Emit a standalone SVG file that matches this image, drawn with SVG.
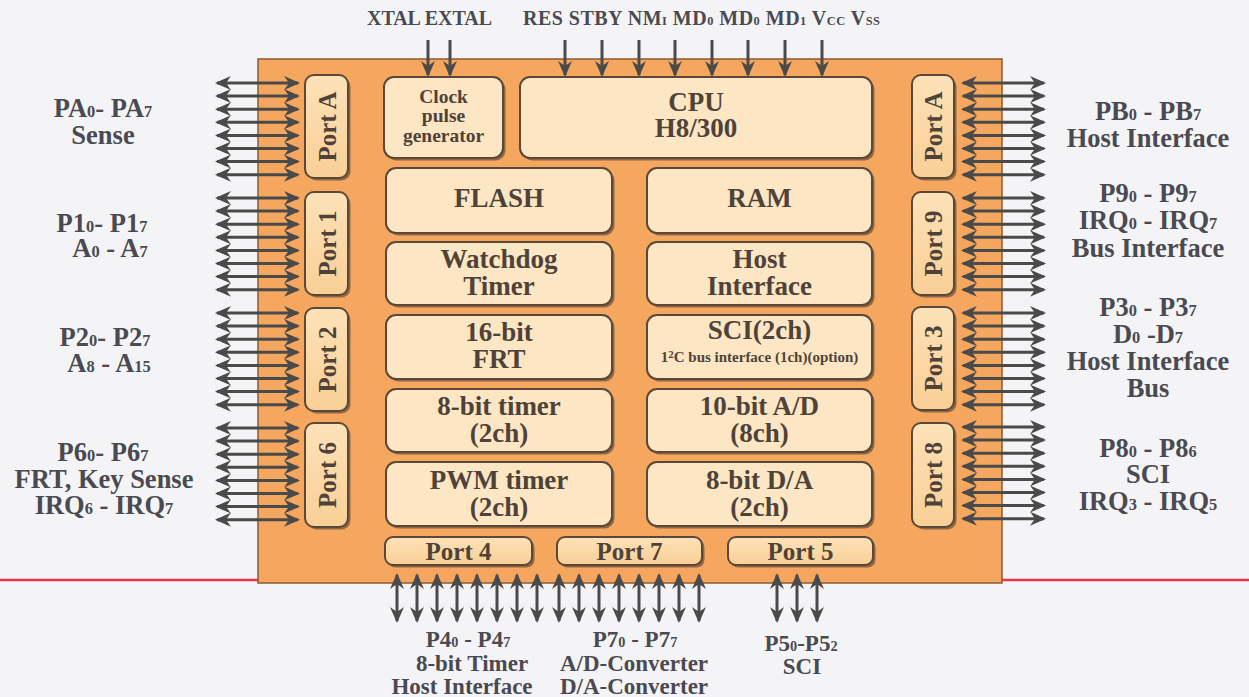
<svg xmlns="http://www.w3.org/2000/svg" xmlns:xlink="http://www.w3.org/1999/xlink" width="1249" height="697" viewBox="0 0 1249 697">
<style>
.lbl{font-family:"Liberation Serif","Times New Roman",serif;font-weight:bold;fill:#4a4a50;text-anchor:middle}
.side{font-size:26.5px}
.bot{font-size:23px}
.top{font-size:20px;text-anchor:start}
.s{font-size:62%}
.blk{fill:#fce6c3;stroke:#5a4838;stroke-width:2}
.prt{fill:url(#pg);stroke:#5a4838;stroke-width:2}
.sh{fill:#6e5238;opacity:0.75}
.bt{font-family:"Liberation Serif","Times New Roman",serif;font-weight:bold;fill:#4f4238;text-anchor:middle;font-size:27px}
.ct{font-size:19.5px}
.pt{font-size:25px}
.sm{font-size:15px}
.ar{stroke:#4a4a4a;stroke-width:3;fill:none}
.dbl{marker-start:url(#ah);marker-end:url(#ah)}
.sgl{marker-end:url(#ah)}
</style>
<defs>
<linearGradient id="pg" x1="0" y1="0" x2="0" y2="1">
<stop offset="0" stop-color="#fde2b8"/>
<stop offset="1" stop-color="#f9cf96"/>
</linearGradient>
<marker id="ah" markerUnits="userSpaceOnUse" viewBox="0 0 16 14" markerWidth="16" markerHeight="14" refX="14" refY="7" orient="auto-start-reverse">
<path d="M0,0 L16,7 L0,14 L5,7 z" fill="#4a4a4a"/>
</marker>
<g id="hbus" class="ar dbl">
<line x1="0" y1="0" x2="81" y2="0"/>
<line x1="0" y1="13.1" x2="81" y2="13.1"/>
<line x1="0" y1="26.2" x2="81" y2="26.2"/>
<line x1="0" y1="39.3" x2="81" y2="39.3"/>
<line x1="0" y1="52.4" x2="81" y2="52.4"/>
<line x1="0" y1="65.5" x2="81" y2="65.5"/>
<line x1="0" y1="78.6" x2="81" y2="78.6"/>
<line x1="0" y1="91.7" x2="81" y2="91.7"/>
</g>
<g id="vbus" class="ar dbl">
<line x1="0" y1="0" x2="0" y2="46"/>
<line x1="20" y1="0" x2="20" y2="46"/>
<line x1="40" y1="0" x2="40" y2="46"/>
<line x1="60" y1="0" x2="60" y2="46"/>
<line x1="80" y1="0" x2="80" y2="46"/>
<line x1="100" y1="0" x2="100" y2="46"/>
<line x1="120" y1="0" x2="120" y2="46"/>
<line x1="140" y1="0" x2="140" y2="46"/>
</g>
</defs>
<rect x="0" y="0" width="1249" height="697" fill="#f4f4f7"/>
<g id="baseline">
<line x1="0" y1="580" x2="258" y2="580" stroke="#e8344e" stroke-width="2.5"/>
<line x1="1002" y1="580" x2="1249" y2="580" stroke="#e8344e" stroke-width="2.5"/>
</g>
<g id="chip">
<rect x="258" y="59" width="744" height="524" fill="#f5a75f" stroke="#8a5a30" stroke-width="1.5"/>
</g>
<g id="clock">
<rect class="sh" x="386.5" y="79.5" width="119" height="81" rx="10"/>
<rect class="blk" x="384" y="77" width="119" height="81" rx="10"/>
<text class="bt ct" x="443.5" y="103">Clock</text>
<text class="bt ct" x="443.5" y="122">pulse</text>
<text class="bt ct" x="443.5" y="142">generator</text>
</g>
<g id="cpu">
<rect class="sh" x="522.5" y="79.5" width="352" height="81" rx="10"/>
<rect class="blk" x="520" y="77" width="352" height="81" rx="10"/>
<text class="bt" x="696" y="111">CPU</text>
<text class="bt" x="696" y="137">H8/300</text>
</g>
<g id="flash">
<rect class="sh" x="388.5" y="170.5" width="226" height="65" rx="10"/>
<rect class="blk" x="386" y="168" width="226" height="65" rx="10"/>
<text class="bt" x="499" y="207">FLASH</text>
</g>
<g id="ram">
<rect class="sh" x="649.5" y="170.5" width="225" height="65" rx="10"/>
<rect class="blk" x="647" y="168" width="225" height="65" rx="10"/>
<text class="bt" x="759.5" y="207">RAM</text>
</g>
<g id="watchdog">
<rect class="sh" x="388.5" y="244.5" width="226" height="63" rx="10"/>
<rect class="blk" x="386" y="242" width="226" height="63" rx="10"/>
<text class="bt" x="499" y="268">Watchdog</text>
<text class="bt" x="499" y="295">Timer</text>
</g>
<g id="hostif">
<rect class="sh" x="649.5" y="244.5" width="225" height="63" rx="10"/>
<rect class="blk" x="647" y="242" width="225" height="63" rx="10"/>
<text class="bt" x="759.5" y="268">Host</text>
<text class="bt" x="759.5" y="295">Interface</text>
</g>
<g id="frt">
<rect class="sh" x="388.5" y="317.5" width="226" height="64" rx="10"/>
<rect class="blk" x="386" y="315" width="226" height="64" rx="10"/>
<text class="bt" x="499" y="341">16-bit</text>
<text class="bt" x="499" y="368">FRT</text>
</g>
<g id="sci">
<rect class="sh" x="649.5" y="317.5" width="225" height="64" rx="10"/>
<rect class="blk" x="647" y="315" width="225" height="64" rx="10"/>
<text class="bt" x="759.5" y="339">SCI(2ch)</text>
<text class="bt sm" x="759.5" y="362">1<tspan font-size="11" dy="-4">2</tspan><tspan dy="4">C bus interface (1ch)(option)</tspan></text>
</g>
<g id="timer8">
<rect class="sh" x="388.5" y="391.5" width="226" height="63" rx="10"/>
<rect class="blk" x="386" y="389" width="226" height="63" rx="10"/>
<text class="bt" x="499" y="415">8-bit timer</text>
<text class="bt" x="499" y="442">(2ch)</text>
</g>
<g id="ad">
<rect class="sh" x="649.5" y="391.5" width="225" height="63" rx="10"/>
<rect class="blk" x="647" y="389" width="225" height="63" rx="10"/>
<text class="bt" x="759.5" y="415">10-bit A/D</text>
<text class="bt" x="759.5" y="442">(8ch)</text>
</g>
<g id="pwm">
<rect class="sh" x="388.5" y="464.5" width="226" height="64" rx="10"/>
<rect class="blk" x="386" y="462" width="226" height="64" rx="10"/>
<text class="bt" x="499" y="489">PWM timer</text>
<text class="bt" x="499" y="516">(2ch)</text>
</g>
<g id="da">
<rect class="sh" x="649.5" y="464.5" width="225" height="64" rx="10"/>
<rect class="blk" x="647" y="462" width="225" height="64" rx="10"/>
<text class="bt" x="759.5" y="489">8-bit D/A</text>
<text class="bt" x="759.5" y="516">(2ch)</text>
</g>
<g id="portA-left">
<rect class="sh" x="307.5" y="77.5" width="43" height="103" rx="9"/>
<rect class="prt" x="305" y="75" width="43" height="103" rx="9"/>
<text class="bt pt" transform="translate(326.5,126.5) rotate(-90)" x="0" y="9">Port A</text>
</g>
<g id="port1">
<rect class="sh" x="307.5" y="194.5" width="43" height="103" rx="9"/>
<rect class="prt" x="305" y="192" width="43" height="103" rx="9"/>
<text class="bt pt" transform="translate(326.5,243.5) rotate(-90)" x="0" y="9">Port 1</text>
</g>
<g id="port2">
<rect class="sh" x="307.5" y="310.5" width="43" height="103" rx="9"/>
<rect class="prt" x="305" y="308" width="43" height="103" rx="9"/>
<text class="bt pt" transform="translate(326.5,359.5) rotate(-90)" x="0" y="9">Port 2</text>
</g>
<g id="port6">
<rect class="sh" x="307.5" y="425.5" width="43" height="104" rx="9"/>
<rect class="prt" x="305" y="423" width="43" height="104" rx="9"/>
<text class="bt pt" transform="translate(326.5,475) rotate(-90)" x="0" y="9">Port 6</text>
</g>
<g id="portA-right">
<rect class="sh" x="914.5" y="77.5" width="42" height="103" rx="9"/>
<rect class="prt" x="912" y="75" width="42" height="103" rx="9"/>
<text class="bt pt" transform="translate(933,126.5) rotate(-90)" x="0" y="9">Port A</text>
</g>
<g id="port9">
<rect class="sh" x="914.5" y="194.5" width="42" height="103" rx="9"/>
<rect class="prt" x="912" y="192" width="42" height="103" rx="9"/>
<text class="bt pt" transform="translate(933,243.5) rotate(-90)" x="0" y="9">Port 9</text>
</g>
<g id="port3">
<rect class="sh" x="914.5" y="309.5" width="42" height="103" rx="9"/>
<rect class="prt" x="912" y="307" width="42" height="103" rx="9"/>
<text class="bt pt" transform="translate(933,358.5) rotate(-90)" x="0" y="9">Port 3</text>
</g>
<g id="port8">
<rect class="sh" x="914.5" y="425.5" width="42" height="104" rx="9"/>
<rect class="prt" x="912" y="423" width="42" height="104" rx="9"/>
<text class="bt pt" transform="translate(933,475) rotate(-90)" x="0" y="9">Port 8</text>
</g>
<g id="port4">
<rect class="sh" x="387.5" y="539.5" width="147" height="28" rx="8"/>
<rect class="prt" x="385" y="537" width="147" height="28" rx="8"/>
<text class="bt pt" x="458.5" y="560">Port 4</text>
</g>
<g id="port7">
<rect class="sh" x="559.5" y="539.5" width="145" height="28" rx="8"/>
<rect class="prt" x="557" y="537" width="145" height="28" rx="8"/>
<text class="bt pt" x="629.5" y="560">Port 7</text>
</g>
<g id="port5">
<rect class="sh" x="730.5" y="539.5" width="145" height="28" rx="8"/>
<rect class="prt" x="728" y="537" width="145" height="28" rx="8"/>
<text class="bt pt" x="800.5" y="560">Port 5</text>
</g>
<g id="connectors">
<use xlink:href="#hbus" href="#hbus" x="217" y="83"/>
<use xlink:href="#hbus" href="#hbus" x="217" y="198"/>
<use xlink:href="#hbus" href="#hbus" x="217" y="313"/>
<use xlink:href="#hbus" href="#hbus" x="217" y="428"/>
<use xlink:href="#hbus" href="#hbus" x="963" y="83"/>
<use xlink:href="#hbus" href="#hbus" x="963" y="198"/>
<use xlink:href="#hbus" href="#hbus" x="963" y="313"/>
<use xlink:href="#hbus" href="#hbus" x="963" y="427"/>
<use xlink:href="#vbus" href="#vbus" x="397" y="575"/>
<use xlink:href="#vbus" href="#vbus" x="559" y="575"/>
<g class="ar dbl">
<line x1="777" y1="575" x2="777" y2="621"/>
<line x1="797" y1="575" x2="797" y2="621"/>
<line x1="817" y1="575" x2="817" y2="621"/>
</g>
<g class="ar sgl">
<line x1="428" y1="40" x2="428" y2="75"/>
<line x1="450" y1="40" x2="450" y2="75"/>
<line x1="565" y1="40" x2="565" y2="75"/>
<line x1="602" y1="40" x2="602" y2="75"/>
<line x1="639" y1="40" x2="639" y2="75"/>
<line x1="675" y1="40" x2="675" y2="75"/>
<line x1="712" y1="40" x2="712" y2="75"/>
<line x1="748" y1="40" x2="748" y2="75"/>
<line x1="785" y1="40" x2="785" y2="75"/>
<line x1="822" y1="40" x2="822" y2="75"/>
</g>
</g>
<g id="top-labels">
<text class="lbl top" x="367" y="25" textLength="125">XTAL EXTAL</text>
<text class="lbl top" x="523" y="25" textLength="357" lengthAdjust="spacing">RES STBY NM<tspan class="s">I</tspan> MD<tspan class="s">0</tspan> MD<tspan class="s">0</tspan> MD<tspan class="s">1</tspan> V<tspan class="s">CC</tspan> V<tspan class="s">SS</tspan></text>
</g>
<g id="left-labels">
<text class="lbl side" x="103" y="117">PA<tspan class="s">0</tspan>- PA<tspan class="s">7</tspan></text>
<text class="lbl side" x="103" y="144">Sense</text>
<text class="lbl side" x="102" y="232">P1<tspan class="s">0</tspan>- P1<tspan class="s">7</tspan></text>
<text class="lbl side" x="110" y="257">A<tspan class="s">0</tspan> - A<tspan class="s">7</tspan></text>
<text class="lbl side" x="105" y="346">P2<tspan class="s">0</tspan>- P2<tspan class="s">7</tspan></text>
<text class="lbl side" x="109" y="372">A<tspan class="s">8</tspan> - A<tspan class="s">15</tspan></text>
<text class="lbl side" x="103" y="461">P6<tspan class="s">0</tspan>- P6<tspan class="s">7</tspan></text>
<text class="lbl side" x="104" y="488">FRT, Key Sense</text>
<text class="lbl side" x="104" y="514">IRQ<tspan class="s">6</tspan> - IRQ<tspan class="s">7</tspan></text>
</g>
<g id="right-labels">
<text class="lbl side" x="1148" y="120">PB<tspan class="s">0</tspan> - PB<tspan class="s">7</tspan></text>
<text class="lbl side" x="1148" y="147">Host Interface</text>
<text class="lbl side" x="1148" y="202">P9<tspan class="s">0</tspan> - P9<tspan class="s">7</tspan></text>
<text class="lbl side" x="1148" y="229">IRQ<tspan class="s">0</tspan> - IRQ<tspan class="s">7</tspan></text>
<text class="lbl side" x="1148" y="257">Bus Interface</text>
<text class="lbl side" x="1148" y="316">P3<tspan class="s">0</tspan> - P3<tspan class="s">7</tspan></text>
<text class="lbl side" x="1148" y="343">D<tspan class="s">0</tspan> -D<tspan class="s">7</tspan></text>
<text class="lbl side" x="1148" y="370">Host Interface</text>
<text class="lbl side" x="1148" y="397">Bus</text>
<text class="lbl side" x="1148" y="457">P8<tspan class="s">0</tspan> - P8<tspan class="s">6</tspan></text>
<text class="lbl side" x="1148" y="483">SCI</text>
<text class="lbl side" x="1148" y="510">IRQ<tspan class="s">3</tspan> - IRQ<tspan class="s">5</tspan></text>
</g>
<g id="bottom-labels">
<text class="lbl bot" x="468" y="647">P4<tspan class="s">0</tspan> - P4<tspan class="s">7</tspan></text>
<text class="lbl bot" x="472" y="671">8-bit Timer</text>
<text class="lbl bot" x="462" y="694">Host Interface</text>
<text class="lbl bot" x="635" y="647">P7<tspan class="s">0</tspan> - P7<tspan class="s">7</tspan></text>
<text class="lbl bot" x="634" y="671">A/D-Converter</text>
<text class="lbl bot" x="634" y="694">D/A-Converter</text>
<text class="lbl bot" x="801" y="651">P5<tspan class="s">0</tspan>-P5<tspan class="s">2</tspan></text>
<text class="lbl bot" x="802" y="674">SCI</text>
</g>
</svg>
